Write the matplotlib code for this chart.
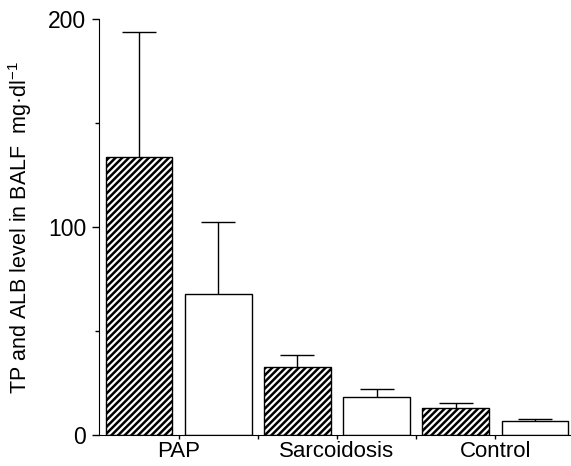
import matplotlib.pyplot as plt
import numpy as np
from matplotlib.ticker import FixedLocator

plt.rcParams['font.family'] = ['Liberation Sans Narrow', 'Liberation Sans', 'DejaVu Sans']
plt.rcParams['hatch.linewidth'] = 1.8

groups = ["PAP", "Sarcoidosis", "Control"]
tp_mean = [133.6, 32.5, 12.8]
tp_err = [60.0, 5.8, 2.4]
alb_mean = [67.7, 18.4, 6.6]
alb_err = [34.7, 3.7, 0.9]

fig = plt.figure(figsize=(5.71, 4.66), dpi=100)
ax = fig.add_axes([0.173, 0.0665, 0.826, 0.8925])

x = np.arange(len(groups)) * 2
w = 0.84
ax.bar(x, tp_mean, w, color='white', edgecolor='black', hatch='/////', linewidth=1.0, zorder=2)
ax.bar(x + 1, alb_mean, w, color='white', edgecolor='black', linewidth=1.0, zorder=2)

# upper error bars only
for xs, m, e in [(x, tp_mean, tp_err), (x + 1, alb_mean, alb_err)]:
    _, caps, _ = ax.errorbar(xs, m, yerr=[np.zeros(3), e], fmt='none', ecolor='black',
                             elinewidth=1.0, capsize=12, capthick=1.0, zorder=1)
    caps[0].set_visible(False)

ax.set_xlim(-0.51, 5.45)
ax.set_ylim(0, 200)
ax.spines['top'].set_visible(False)
ax.spines['right'].set_visible(False)

ax.set_yticks([0, 100, 200])
ax.yaxis.set_minor_locator(FixedLocator([50, 150]))
ax.tick_params(axis='y', which='major', length=5, width=1, labelsize=16.5, pad=4)
ax.tick_params(axis='y', which='minor', length=3, width=1)

ax.set_xticks(x + 0.5)
ax.set_xticklabels(groups)
ax.xaxis.set_minor_locator(FixedLocator([1.5, 3.5]))
ax.tick_params(axis='x', which='both', length=3, width=1, labelsize=16, pad=1)

ax.set_ylabel(r'TP and ALB level in BALF  mg·dl$\mathregular{^{-1}}$', fontsize=15.5, labelpad=10)

fig.savefig('out.png', dpi=100)
